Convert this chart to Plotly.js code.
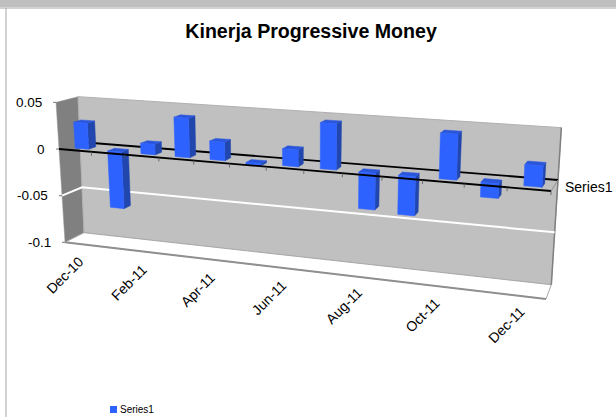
<!DOCTYPE html>
<html>
<head>
<meta charset="utf-8">
<script src="https://cdn.plot.ly/plotly-3.0.1.min.js"></script>
<style>html,body{margin:0;padding:0;background:#fff;overflow:hidden}#chart{width:616px;height:417px}</style>
</head>
<body>
<div id="chart"></div>
<script>
const chartTitle = "Kinerja Progressive Money";
const seriesName = "Series1";
const months = ["Dec-10","Jan-11","Feb-11","Mar-11","Apr-11","May-11","Jun-11","Jul-11","Aug-11","Sep-11","Oct-11","Nov-11","Dec-11"];
const series1 = [0.028,-0.060,0.011,0.041,0.019,-0.002,0.017,0.046,-0.036,-0.038,0.044,-0.014,0.020];
const valueTicks = [0.05,0,-0.05,-0.1];
const valueTickLabels = ["0.05","0","-0.05","-0.1"];
const valueMax = 0.05, valueMin = -0.1;

// Perspective of the 3-D box, as four edges of the value axis (px = a + b*value)
const edges = {
  frontLeft:  {x:[59,-60], y:[149,-933]},
  backLeft:   {x:[80,-40], y:[142,-907]},
  frontRight: {x:[551,50], y:[191,-1080]},
  backRight:  {x:[558,67], y:[180,-1047]}
};
const vanish = 1.178, n = months.length;
const W = 616, H = 417, vScale = 933, vZero = 149;
const pxToV = py => (vZero - py) / vScale;
function project(cat, v, depth){
  const u = cat / n, f = u / (u + vanish * (1 - u));
  const on = (e, k) => e[k][0] + e[k][1] * v;
  const mix = (a, b, t) => a + (b - a) * t;
  const lx = mix(on(edges.frontLeft,'x'), on(edges.backLeft,'x'), depth);
  const ly = mix(on(edges.frontLeft,'y'), on(edges.backLeft,'y'), depth);
  const rx = mix(on(edges.frontRight,'x'), on(edges.backRight,'x'), depth);
  const ry = mix(on(edges.frontRight,'y'), on(edges.backRight,'y'), depth);
  return [mix(lx, rx, f), pxToV(mix(ly, ry, f))];
}
const traces = [];
function poly(pts, fill, line, lw){
  const c = pts.concat([pts[0]]);
  traces.push({type:'scatter', mode:'lines', x:c.map(p=>p[0]), y:c.map(p=>p[1]), fill:'toself', fillcolor:fill,
    line:{color:line||fill, width:lw===undefined?0.5:lw}, hoverinfo:'skip', showlegend:false});
}
function path(pts, color, w){
  traces.push({type:'scatter', mode:'lines', x:pts.map(p=>p[0]), y:pts.map(p=>p[1]),
    line:{color:color, width:w}, hoverinfo:'skip', showlegend:false});
}
// walls and floor
poly([project(0,valueMax,0),project(0,valueMax,1),project(0,valueMin,1),project(0,valueMin,0)],'#808080','#9a9a9a',0.5);
poly([project(0,valueMax,1),project(n,valueMax,1),project(n,valueMin,1),project(0,valueMin,1)],'#c0c0c0','#b0b0b0',1);
poly([project(0,valueMin,0),project(0,valueMin,1),project(n,valueMin,1),project(n,valueMin,0)],'#ffffff','#a8a8a8',1);
path([project(0,valueMin,0),project(n,valueMin,0)],'#8f8f8f',2);
path([project(n,valueMax,1),project(n,valueMin,1)],'#808080',1.5);
// white gridline
path([project(0,-0.05,0),project(0,-0.05,1),project(n,-0.05,1)],'#ffffff',2);
// back zero edge
path([project(0,0,1),project(n,0,1)],'#000000',1.8);
path([project(n,0,1),project(n,0,0)],'#909090',1);
// columns
const bw0 = 0.34, bw1 = 0.76, d0 = 0.25, d1 = 0.6;
series1.forEach((v,i)=>{
  const top = Math.max(v,0), bot = Math.min(v,0), a = i+bw0, b = i+bw1;
  poly([project(b,top,d0),project(b,top,d1),project(b,bot,d1),project(b,bot,d0)],'#2146ae');
  poly([project(a,top,d0),project(b,top,d0),project(b,top,d1),project(a,top,d1)],'#2a56dc');
  poly([project(a,top,d0),project(b,top,d0),project(b,bot,d0),project(a,bot,d0)],'#2e62ff');
});
// front zero edge and category ticks
path([project(0,0,0),project(n,0,0)],'#000000',1.8);
for(let i=1;i<=n;i++){
  const p = project(i,0,0);
  path([p,[p[0],p[1]-4/vScale]],'#555555',0.8);
}
// value ticks
valueTicks.forEach(v=>{
  const p = project(0,v,0);
  path([[p[0]-3,p[1]],p],'#555555',0.8);
});
const ann = [];
const baseFont = {family:'"Liberation Sans", Arial, sans-serif', color:'#000'};
valueTicks.forEach((v,i)=>{
  const p = project(0,v,0);
  ann.push({x:p[0]-12,y:p[1],text:valueTickLabels[i],showarrow:false,xanchor:'right',yanchor:'middle',
    font:Object.assign({size:13.5},baseFont)});
});
months.forEach((m,i)=>{
  if(i%2) return;
  const p = project(i+0.5,valueMin,0);
  ann.push({x:p[0]-16-i*0.2,y:p[1]-(30.5-i*0.2)/vScale,text:m,textangle:-45,showarrow:false,xanchor:'center',yanchor:'middle',
    font:Object.assign({size:14},baseFont)});
});
const sp = project(n,0,1);
ann.push({x:sp[0]+5,y:sp[1]-7/vScale,text:seriesName,showarrow:false,xanchor:'left',yanchor:'middle',
  font:Object.assign({size:14},baseFont)});
// legend key
ann.push({x:118,y:pxToV(409.5),text:seriesName,showarrow:false,xanchor:'left',yanchor:'middle',
  font:Object.assign({size:10},baseFont)});
traces.push({type:'scatter',mode:'markers',x:[113.5],y:[pxToV(409.5)],marker:{symbol:'square',size:7,color:'#2e62ff'},hoverinfo:'skip',showlegend:false});

const layout = {
  width:W,height:H,margin:{l:0,r:0,t:0,b:0},paper_bgcolor:'#fff',plot_bgcolor:'#fff',showlegend:false,
  title:{text:chartTitle,x:0.505,xanchor:'center',y:0.925,yanchor:'middle',font:{family:'"Liberation Sans", Arial, sans-serif',size:19.6,color:'#000',weight:700}},
  xaxis:{range:[0,W],visible:false,fixedrange:true},
  yaxis:{range:[pxToV(H),pxToV(0)],visible:false,fixedrange:true},
  annotations:ann,
  shapes:[
    {type:'rect',xref:'paper',yref:'paper',x0:0,x1:1,y0:1-7/H,y1:1,fillcolor:'#bfbfbf',line:{width:0}},
    {type:'line',xref:'paper',yref:'paper',x0:0,x1:1,y0:1-8/H,y1:1-8/H,line:{color:'#a6a6a6',width:1}},
    {type:'line',xref:'paper',yref:'paper',x0:6/W,x1:6/W,y0:0,y1:1-8/H,line:{color:'#a6a6a6',width:1}}
  ]
};
Plotly.newPlot('chart',traces,layout,{displayModeBar:false,staticPlot:true});
</script>
</body>
</html>
